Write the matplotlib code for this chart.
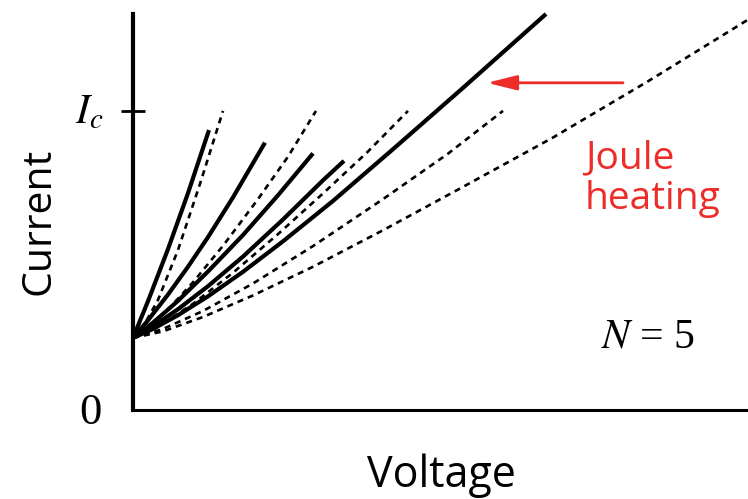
import matplotlib
matplotlib.use("Agg")
import matplotlib.pyplot as plt

W, H = 748, 499
plt.rcParams["mathtext.fontset"] = "stix"

# Current in units of the critical current Ic, voltage in arbitrary units
I_C = 1.0

# Solid I-V curves
solid_v = [
    [0, 0.15, 0.35, 0.55, 0.76],
    [0, 0.15, 0.35, 0.55, 0.75, 1.00, 1.32],
    [0, 0.20, 0.45, 0.75, 1.10, 1.45, 1.80],
    [0, 0.20, 0.45, 0.75, 1.10, 1.50, 1.90, 2.11],
    [0, 0.20, 0.45, 0.75, 1.10, 1.50, 2.00, 2.60, 3.30, 4.13],
]
solid_i = [
    [0.241, 0.364, 0.538, 0.725, 0.936],
    [0.241, 0.300, 0.386, 0.479, 0.578, 0.711, 0.894],
    [0.241, 0.292, 0.365, 0.463, 0.585, 0.718, 0.858],
    [0.241, 0.280, 0.337, 0.414, 0.513, 0.637, 0.768, 0.833],
    [0.241, 0.271, 0.317, 0.380, 0.462, 0.564, 0.699, 0.872, 1.077, 1.324],
]

# Dotted I-V curves
dotted_v = [
    [0, 0.10, 0.25, 0.45, 0.67, 0.90],
    [0, 0.15, 0.35, 0.60, 0.90, 1.25, 1.55, 1.83],
    [0, 0.25, 0.60, 1.00, 1.45, 1.90, 2.34, 2.75],
    [0, 0.30, 0.70, 1.20, 1.80, 2.50, 3.15, 3.70],
    [0, 0.30, 0.70, 1.20, 1.80, 2.50, 3.30, 4.20, 5.15, 6.15],
]
dotted_i = [
    [0.241, 0.278, 0.368, 0.535, 0.756, 1.0],
    [0.241, 0.276, 0.336, 0.427, 0.549, 0.705, 0.847, 1.0],
    [0.241, 0.279, 0.355, 0.459, 0.588, 0.724, 0.861, 1.0],
    [0.241, 0.271, 0.331, 0.423, 0.548, 0.705, 0.857, 1.0],
    [0.241, 0.263, 0.311, 0.383, 0.479, 0.601, 0.746, 0.911, 1.099, 1.305],
]

X_MAX, Y_MAX = 6.15, 1.324
RED = "#ED2D2A"
SANS = ["Open Sans", "DejaVu Sans"]
SERIF = ["Liberation Serif", "DejaVu Serif"]

fig = plt.figure(figsize=(W / 100, H / 100), dpi=100)
ax = fig.add_axes([133 / W, 89 / H, 615 / W, 396 / H])

for v, i in zip(dotted_v, dotted_i):
    ax.plot(v, i, color="black", lw=1.9, linestyle=(0, (2.3, 1.9)),
            clip_on=False, solid_capstyle="butt")
for v, i in zip(solid_v, solid_i):
    ax.plot(v, i, color="black", lw=3.0, clip_on=False,
            solid_capstyle="butt", solid_joinstyle="round")

ax.set_xlim(0, X_MAX)
ax.set_ylim(0, Y_MAX)
for s in ("top", "right"):
    ax.spines[s].set_visible(False)
ax.spines["left"].set_linewidth(3.0)
ax.spines["bottom"].set_linewidth(2.2)
ax.set_xticks([])
ax.set_yticks([I_C])
ax.set_yticklabels([])
ax.tick_params(axis="y", direction="inout", length=17, width=2.0)

# Arrow pointing at the heated curve
ax.annotate("", xy=(3.54, 1.094), xytext=(4.90, 1.094),
            arrowprops=dict(arrowstyle="-|>,head_length=1.8,head_width=0.45",
                            mutation_scale=10, lw=2.0, color=RED,
                            shrinkA=0, shrinkB=0))


def px(x, y):
    return x / W, 1 - y / H


fig.text(*px(441, 487), "Voltage", ha="center", va="baseline",
         fontsize=31, family=SANS)
fig.text(*px(49, 221), "Current", ha="center", va="baseline", rotation=90,
         rotation_mode="anchor", fontsize=29.5, family=SANS)
fig.text(*px(585, 168), "Joule", ha="left", va="baseline",
         fontsize=28, family=SANS, color=RED)
fig.text(*px(585, 209), "heating", ha="left", va="baseline",
         fontsize=28, family=SANS, color=RED)
fig.text(*px(75, 123), r"$I_c$", ha="left", va="baseline", fontsize=30)
fig.text(*px(90, 424), "0", ha="center", va="baseline", fontsize=32,
         family=SERIF)
fig.text(*px(601, 348), r"$N$ = 5", ha="left", va="baseline", fontsize=30,
         family=SERIF)

fig.savefig("out.png", dpi=100)
